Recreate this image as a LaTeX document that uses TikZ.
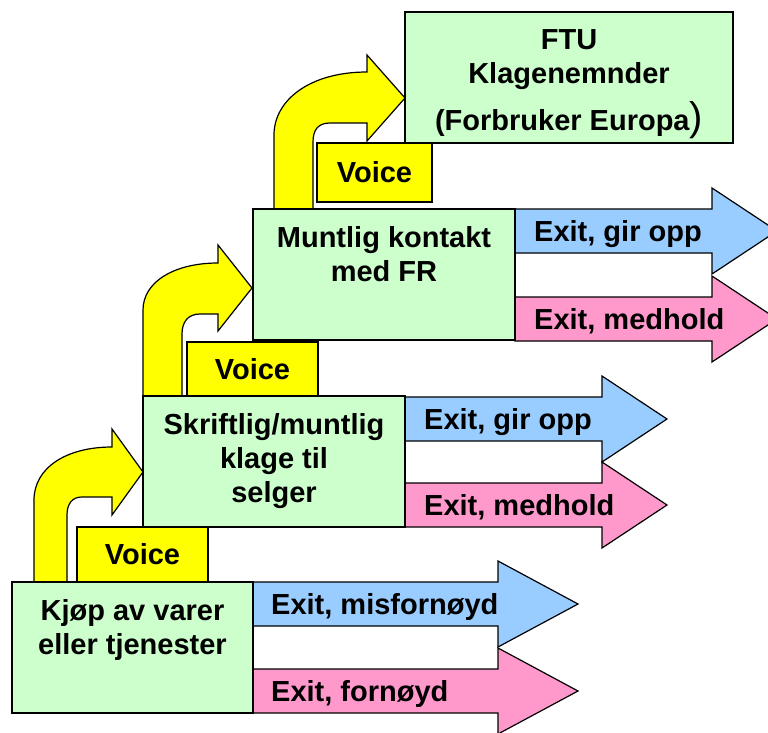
\documentclass[tikz,border=0pt]{standalone}
\usepackage{fontspec}
\setmainfont{Liberation Sans}
\usetikzlibrary{positioning}

\definecolor{stagegreen}{HTML}{CCFFCC}
\definecolor{voiceyellow}{HTML}{FFFF00}
\definecolor{exitblue}{HTML}{99CCFF}
\definecolor{exitpink}{HTML}{FF99CC}

\begin{document}
\begin{tikzpicture}[
    x=1pt, y=-1pt,
    font=\fontsize{29}{34}\selectfont\bfseries,
    stage/.style={draw, line width=1.2pt, fill=stagegreen, inner sep=0pt, outer sep=0pt, anchor=north west},
    stagetext/.style={align=center, inner sep=0pt, anchor=north},
    voicebox/.style={draw, line width=1.2pt, fill=voiceyellow, inner sep=0pt, outer sep=0pt, anchor=north west},
    voicearrow/.style={draw, line width=1.2pt, fill=voiceyellow},
    exitup/.style={draw, line width=1.2pt, fill=exitblue},
    exitok/.style={draw, line width=1.2pt, fill=exitpink},
    exittext/.style={anchor=base west, inner sep=0pt}
]
\useasboundingbox (0,0) rectangle (768,733);

% exit arrows
\draw[exitup] (252,582) -- (498,582) -- (498,561) -- (578,604) -- (498,647) -- (498,626) -- (252,626) -- cycle;
\draw[exitok] (252,669) -- (498,669) -- (498,648) -- (578,691) -- (498,734) -- (498,713) -- (252,713) -- cycle;
\draw[exitup] (405,397) -- (602,397) -- (602,376) -- (667,419) -- (602,462) -- (602,441) -- (405,441) -- cycle;
\draw[exitok] (405,483) -- (602,483) -- (602,462) -- (667,505) -- (602,548) -- (602,527) -- (405,527) -- cycle;
\draw[exitup] (515,209) -- (712,209) -- (712,188) -- (777,231) -- (712,274) -- (712,253) -- (515,253) -- cycle;
\draw[exitok] (515,297) -- (712,297) -- (712,276) -- (777,319) -- (712,362) -- (712,341) -- (515,341) -- cycle;

% voice arrows
\draw[voicearrow] (34,582) -- (34,500) .. controls (34,468) and (66,447) .. (112,447) -- (112,429) -- (143,472)
    -- (112,515) -- (112,497) -- (82,497) .. controls (72,497) and (67,504) .. (67,515) -- (67,582) -- cycle;
\draw[voicearrow] (143,396) -- (143,310) .. controls (143,282) and (174,263) .. (218,263) -- (218,245) -- (252,288)
    -- (218,331) -- (218,314) -- (200,314) .. controls (188,314) and (182,322) .. (182,334) -- (182,396) -- cycle;
\draw[voicearrow] (274,209) -- (274,135) .. controls (274,100) and (310,72) .. (367,72) -- (367,55) -- (405,98)
    -- (367,141) -- (367,123) -- (330,123) .. controls (318,123) and (313,130) .. (313,142) -- (313,209) -- cycle;

\node[voicebox, minimum width=131pt, minimum height=55pt] (voice1) at (77,527) {Voice};
\node[voicebox, minimum width=131pt, minimum height=54pt] (voice2) at (187,342) {Voice};
\node[voicebox, minimum width=115pt, minimum height=59pt] (voice3) at (317,143) {Voice};

\node[stage, minimum width=241pt, minimum height=131pt] (kjop) at (12,582) {};
\node[stage, minimum width=262pt, minimum height=131pt] (skriftlig) at (143,396) {};
\node[stage, minimum width=262pt, minimum height=131pt] (muntlig) at (253,209) {};
\node[stage, minimum width=328pt, minimum height=131pt] (ftu) at (405,12) {};

\node[stagetext, below=17pt of kjop.north] (kjoptext) {Kjøp av varer\\eller tjenester};
\node[stagetext, below=17pt of skriftlig.north] (skriftligtext) {Skriftlig/muntlig\\klage til\\selger};
\node[stagetext, below=17pt of muntlig.north] (muntligtext) {Muntlig kontakt\\med FR};
\node[stagetext, below=17pt of ftu.north] (ftutext) {FTU\\Klagenemnder\\[11pt](Forbruker Europa{\fontsize{40}{40}\selectfont\mdseries )}};

\node[exittext] (kjopup) at (271,614) {Exit, misfornøyd};
\node[exittext] (kjopok) at (271,701) {Exit, fornøyd};
\node[exittext] (skriftligup) at (424,429) {Exit, gir opp};
\node[exittext] (skriftligok) at (424,515) {Exit, medhold};
\node[exittext] (muntligup) at (534,241) {Exit, gir opp};
\node[exittext] (muntligok) at (534,329) {Exit, medhold};
\end{tikzpicture}
\end{document}
